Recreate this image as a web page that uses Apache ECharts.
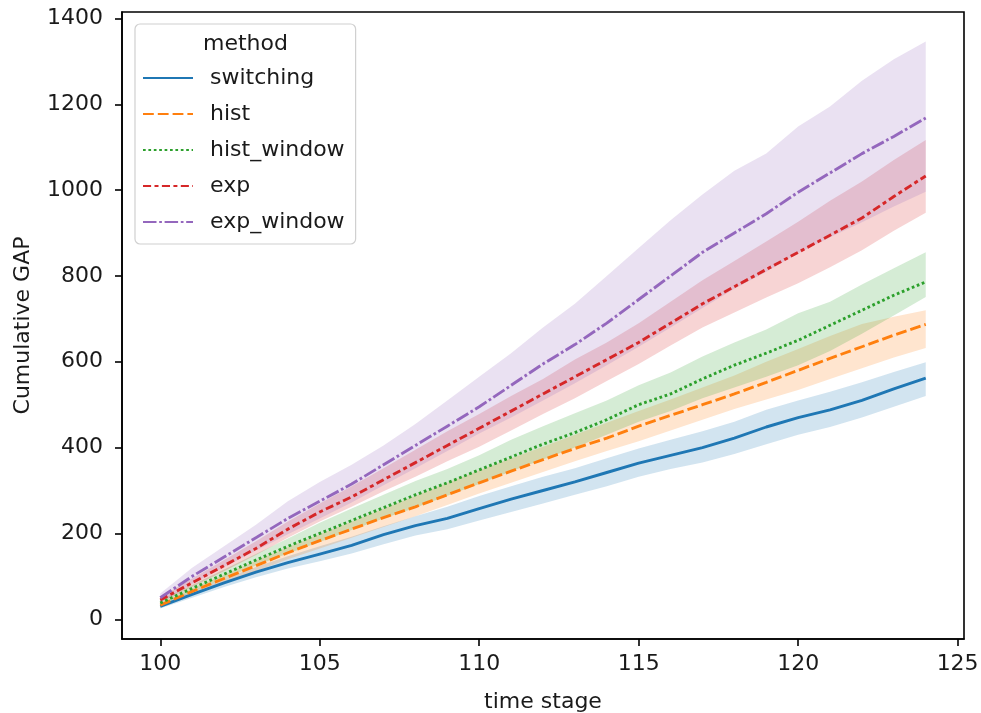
<!DOCTYPE html>
<html>
	<head>
		<meta charset="utf-8">
		<title></title>
		<script src="https://cdn.jsdelivr.net/npm/echarts@6/dist/echarts.min.js"></script>
	</head>
	<body style="margin:0;background:#fff;">
		<div id="my" style="width:981px;height:713px;"></div>

		<script>
			var stages = [100,101,102,103,104,105,106,107,108,109,110,111,112,113,114,115,116,117,118,119,120,121,122,123,124];
			var xTicks = [100,105,110,115,120,125];
			var yTicks = [0,200,400,600,800,1000,1200,1400];
			var methods = ['switching','hist','hist_window','exp','exp_window'];

			// mean curves
			var switchingMean = [30,58,85,110,132,152,172,197,218,235,258,280,300,320,342,364,382,400,422,448,470,488,510,537,562];
			var histMean = [33,65,95,125,155,183,210,237,262,290,318,345,372,398,422,450,475,500,525,552,580,608,635,662,687];
			var histWindowMean = [38,72,105,138,170,200,230,260,290,318,348,378,408,435,465,500,525,560,592,620,650,685,720,755,786];
			var expMean = [45,85,125,165,210,250,285,325,365,405,445,485,525,565,605,645,690,735,775,815,855,895,935,985,1033];
			var expWindowMean = [50,100,145,190,235,275,315,360,405,450,495,545,595,640,690,745,800,855,900,945,995,1040,1085,1125,1168];

			// confidence bands (lower / upper)
			var switchingLo = [25,50,75,98,118,135,153,175,195,210,230,250,270,290,310,332,350,365,385,408,430,448,470,495,520];
			var switchingHi = [34,65,95,122,147,170,192,217,240,262,287,310,332,352,375,398,418,438,460,488,510,530,552,576,599];
			var histLo = [28,57,85,112,140,165,190,215,240,266,293,318,343,368,392,415,440,465,490,512,534,560,585,610,632];
			var histHi = [38,72,104,137,168,198,228,258,288,318,347,375,402,430,458,485,512,540,568,600,630,660,688,705,720];
			var histWindowLo = [32,64,95,125,153,180,208,235,260,288,315,345,372,400,430,460,485,515,540,565,592,625,665,708,751];
			var histWindowHi = [45,80,116,152,188,225,258,290,322,350,382,418,450,480,510,545,575,612,645,675,713,740,780,818,855];
			var expLo = [38,75,112,150,190,228,262,298,332,368,402,440,478,515,555,595,638,680,715,750,783,820,860,905,947];
			var expHi = [52,95,138,182,228,270,310,352,395,438,478,520,560,605,645,690,740,790,835,880,926,975,1020,1070,1117];
			var expWindowLo = [40,82,122,160,198,235,272,312,352,392,433,470,510,550,592,635,680,725,770,810,853,890,925,962,996];
			var expWindowHi = [60,120,170,220,275,320,360,405,455,510,565,620,680,735,800,865,930,990,1045,1085,1148,1195,1255,1305,1346];

			var means = [switchingMean, histMean, histWindowMean, expMean, expWindowMean];
			var lows = [switchingLo, histLo, histWindowLo, expLo, expWindowLo];
			var highs = [switchingHi, histHi, histWindowHi, expHi, expWindowHi];

			var colors = ['#1f77b4','#ff7f0e','#2ca02c','#d62728','#9467bd'];
			var dashes = ['solid', [10.8,4], [2.7,2.7], [8.1,3.4,4,3.4], [13.5,2.7,2.7,2.7]];

			function pairs(arr) {
				return stages.map(function (x, i) { return [x, arr[i]]; });
			}

			// band drawn as one polygon through the axis scales
			function bandRender(k) {
				return function (params, api) {
					if (params.dataIndex !== 0) return;
					var pts = [];
					for (var i = 0; i < stages.length; i++) pts.push(api.coord([stages[i], highs[k][i]]));
					for (var j = stages.length - 1; j >= 0; j--) pts.push(api.coord([stages[j], lows[k][j]]));
					return {
						type: 'polygon',
						shape: { points: pts },
						style: { fill: colors[k], opacity: 0.2 }
					};
				};
			}

			var series = [];
			methods.forEach(function (m, k) {
				series.push({
					name: m + '_band', type: 'custom', silent: true,
					renderItem: bandRender(k),
					encode: { x: 0, y: [1, 2] },
					data: stages.map(function (x, i) { return [x, lows[k][i], highs[k][i]]; })
				});
				series.push({
					name: m, type: 'line', symbol: 'none',
					data: pairs(means[k]),
					itemStyle: { color: colors[k] },
					lineStyle: { color: colors[k], width: 2.9, type: dashes[k] }
				});
			});

			var font = 'DejaVu Sans';
			var plain = function (v) { return String(v); };
			var myChart = echarts.init(document.getElementById('my'));
			var option = {
				animation: false,
				backgroundColor: '#fff',
				textStyle: { fontFamily: font },
				grid: {
					left: 122, top: 12, right: 17, bottom: 74,
					show: true, borderColor: '#000', borderWidth: 1.6,
					containLabel: false,
					outerBoundsMode: 'none'
				},
				title: {
					text: 'method', left: 203, top: 33, padding: 0,
					textStyle: { fontFamily: font, fontSize: 22, fontWeight: 'normal', color: '#1a1a1a' }
				},
				legend: {
					data: methods,
					orient: 'vertical',
					left: 135, top: 24,
					padding: [43, 11, 11, 7],
					itemWidth: 50, itemHeight: 14, itemGap: 14,
					backgroundColor: 'rgba(255,255,255,0.8)',
					borderColor: '#d0d0d0', borderWidth: 1.2, borderRadius: 5,
					itemStyle: { opacity: 0 },
					textStyle: { fontFamily: font, fontSize: 22, color: '#1a1a1a', lineHeight: 22, padding: [0, 0, 0, 12] }
				},
				xAxis: {
					type: 'value', min: 98.8, max: 125.2,
					name: 'time stage', nameLocation: 'middle', nameGap: 52,
					nameTextStyle: { fontFamily: font, fontSize: 22, color: '#1a1a1a' },
					splitLine: { show: false },
					axisLine: { show: true, onZero: false, lineStyle: { color: '#000', width: 1.6 } },
					axisTick: { show: true, length: 7, lineStyle: { color: '#000', width: 1.6 }, customValues: xTicks },
					axisLabel: { fontFamily: font, fontSize: 22, color: '#1a1a1a', margin: 14, customValues: xTicks, formatter: plain }
				},
				yAxis: {
					type: 'value', min: -46, max: 1415,
					name: 'Cumulative GAP', nameLocation: 'middle', nameGap: 88,
					nameTextStyle: { fontFamily: font, fontSize: 22, color: '#1a1a1a' },
					splitLine: { show: false },
					axisLine: { show: true, onZero: false, lineStyle: { color: '#000', width: 1.6 } },
					axisTick: { show: true, length: 7, lineStyle: { color: '#000', width: 1.6 }, customValues: yTicks },
					axisLabel: { fontFamily: font, fontSize: 22, color: '#1a1a1a', margin: 19, customValues: yTicks, formatter: plain }
				},
				series: series
			};

			myChart.setOption(option);
		</script>
	</body>
</html>
